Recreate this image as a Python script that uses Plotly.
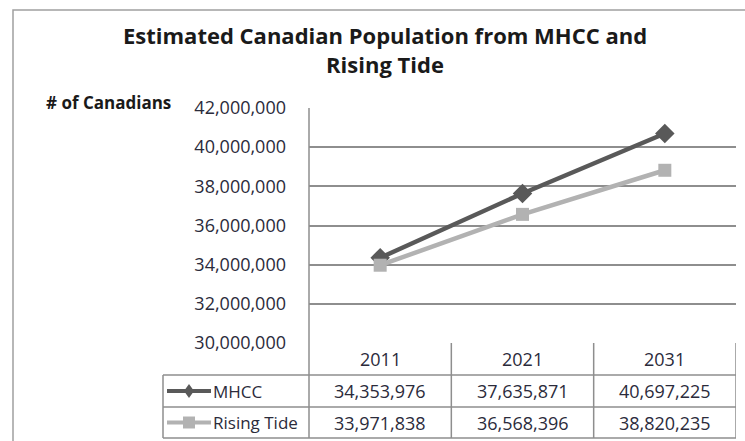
import plotly.graph_objects as go

W, H = 745, 441

years = ["2011", "2021", "2031"]
series_names = ["MHCC", "Rising Tide"]
mhcc = [34353976, 37635871, 40697225]
rising_tide = [33971838, 36568396, 38820235]
y_ticks = [30000000, 32000000, 34000000, 36000000, 38000000, 40000000, 42000000]

title_text = "Estimated Canadian Population from MHCC and<br>Rising Tide"
y_title = "# of Canadians"

colors = ["#595959", "#b2b2b2"]
symbols = ["diamond", "square"]
values = [mhcc, rising_tide]

def px(x):
    return x / W

def py(y):
    return 1 - y / H

# layout in pixels
PL, PR, PT, PB = 309, 736, 108, 343
row_bounds = [343, 375, 407, 438]
TL = 163
grid_col = "#8e8e8e"
txt_col = "#2b2b3b"
FONT = "Open Sans, Liberation Sans, sans-serif"

fig = go.Figure()
for name, vals, c, s in zip(series_names, values, colors, symbols):
    fig.add_trace(go.Scatter(
        x=years, y=vals, name=name, mode="lines+markers",
        line=dict(color=c, width=4.5),
        marker=dict(symbol=s, size=13 if s == "square" else 15, color=c),
        showlegend=False, cliponaxis=False,
    ))

shapes = []
ann = []

# outer chart border
shapes.append(dict(type="rect", xref="paper", yref="paper",
                   x0=px(13), x1=px(800), y0=py(10), y1=py(500),
                   line=dict(color="#a0a0a0", width=1.5), layer="below"))

# table horizontal lines
for yb in row_bounds[1:]:
    shapes.append(dict(type="line", xref="paper", yref="paper",
                       x0=px(TL), x1=px(PR), y0=py(yb), y1=py(yb),
                       line=dict(color=grid_col, width=1.5)))
# table verticals
shapes.append(dict(type="line", xref="paper", yref="paper",
                   x0=px(TL), x1=px(TL), y0=py(row_bounds[1]), y1=py(row_bounds[3]),
                   line=dict(color=grid_col, width=1.5)))
shapes.append(dict(type="line", xref="paper", yref="paper",
                   x0=px(PL), x1=px(PL), y0=py(PT), y1=py(row_bounds[3]),
                   line=dict(color=grid_col, width=1.5)))
for xb in [0.5, 1.5, 2.5]:
    shapes.append(dict(type="line", xref="x", yref="paper",
                       x0=xb, x1=xb, y0=py(row_bounds[0]), y1=py(row_bounds[3]),
                       line=dict(color=grid_col, width=1.5)))

# header years (category index positions on the x axis)
hc = (row_bounds[0] + row_bounds[1]) / 2
for i, yr in enumerate(years):
    ann.append(dict(x=i, xref="x", y=py(hc), yref="paper", text=yr, showarrow=False,
                    xanchor="center", yanchor="middle",
                    font=dict(family=FONT, size=18, color=txt_col)))

# data rows with legend keys
for k, (name, vals, c, s) in enumerate(zip(series_names, values, colors, symbols)):
    rc = (row_bounds[k + 1] + row_bounds[k + 2]) / 2
    for i, v in enumerate(vals):
        ann.append(dict(x=i, xref="x", y=py(rc), yref="paper", text=f"{v:,}",
                        showarrow=False, xanchor="center", yanchor="middle",
                        font=dict(family=FONT, size=18, color=txt_col)))
    ann.append(dict(x=px(211), xref="paper", y=py(rc), yref="paper", text=name,
                    showarrow=False, xanchor="left", yanchor="middle",
                    font=dict(family=FONT, size=17, color=txt_col)))
    # key line
    shapes.append(dict(type="line", xref="paper", yref="paper",
                       x0=px(167), x1=px(211), y0=py(rc), y1=py(rc),
                       line=dict(color=c, width=4)))
    kx = 189
    if s == "square":
        shapes.append(dict(type="rect", xref="paper", yref="paper",
                           x0=px(kx - 6), x1=px(kx + 6), y0=py(rc - 6), y1=py(rc + 6),
                           line=dict(width=0), fillcolor=c))
    else:
        shapes.append(dict(type="path", xref="paper", yref="paper",
                           path=f"M {px(kx-5)} {py(rc)} L {px(kx)} {py(rc-7)} L {px(kx+5)} {py(rc)} L {px(kx)} {py(rc+7)} Z",
                           line=dict(width=0), fillcolor=c))

# y axis title
ann.append(dict(x=px(108), xref="paper", y=py(103), yref="paper", text=y_title,
                showarrow=False, xanchor="center", yanchor="middle",
                font=dict(family=FONT, size=17, color="#1a1a1a", weight="bold")))

# chart title
ann.append(dict(x=px(384.5), xref="paper", y=py(49), yref="paper", text=title_text,
                showarrow=False, xanchor="center", yanchor="middle",
                font=dict(family=FONT, size=22, color="#1a1a1a", weight="bold")))

fig.update_layout(
    width=W, height=H,
    margin=dict(l=0, r=0, t=0, b=0, pad=0, autoexpand=False),
    paper_bgcolor="white", plot_bgcolor="white",
    shapes=shapes, annotations=ann,
    xaxis=dict(domain=[px(PL), px(PR)], range=[-0.5, 2.5], type="category",
               showgrid=False, showline=False, showticklabels=False, zeroline=False,
               fixedrange=True, automargin=False),
    yaxis=dict(domain=[py(PB), py(PT)], range=[30000000, 42000000],
               tickvals=y_ticks, ticktext=[f"{t:,}" for t in y_ticks],
               showgrid=True, gridcolor=grid_col, gridwidth=1.5,
               showline=False, zeroline=False, ticks="",
               ticklabelstandoff=22, automargin=False,
               tickfont=dict(family=FONT, size=18, color=txt_col),
               fixedrange=True),
)

fig.write_html("out.html", config={"displayModeBar": False},
               post_script="document.body.style.margin='0';document.body.style.padding='0';")
